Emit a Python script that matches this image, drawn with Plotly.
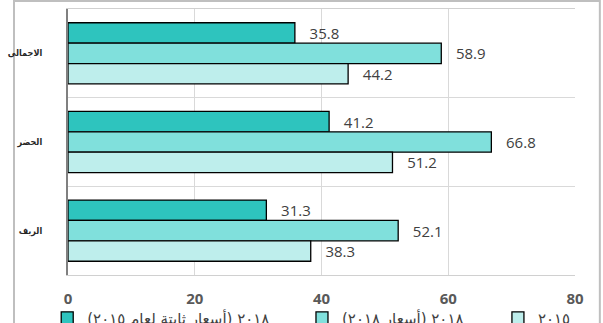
import plotly.graph_objects as go

categories = ["الاجمالى", "الحضر", "الريف"]
series_names = ["٢٠١٨ (أسعار ثابتة لعام ٢٠١٥)", "٢٠١٨ (أسعار ٢٠١٨)", "٢٠١٥"]
values_2018_const = [35.8, 41.2, 31.3]
values_2018_curr = [58.9, 66.8, 52.1]
values_2015 = [44.2, 51.2, 38.3]
x_ticks = [0, 20, 40, 60, 80]

colors = ["#2EC4BE", "#80E0DC", "#BEEEEC"]
series_values = [values_2018_const, values_2018_curr, values_2015]
legend_ids = ["legend", "legend2", "legend3"]
legend_x = [-0.041, 0.4615, 0.848]

fig = go.Figure()
for name, vals, col, lid in zip(series_names, series_values, colors, legend_ids):
    fig.add_trace(go.Bar(
        y=categories, x=vals, orientation="h", name=name,
        marker=dict(color=col, line=dict(color="#000000", width=1.3)),
        text=vals, texttemplate="\u00a0\u00a0\u00a0%{x:.1f}", textposition="outside",
        textfont=dict(family="Open Sans", size=15, color="#404040"),
        cliponaxis=False, legend=lid,
    ))

legend_common = dict(orientation="h", yanchor="middle", y=-0.162, xanchor="left",
                     font=dict(family="DejaVu Sans", size=15, color="#404040"),
                     bgcolor="rgba(0,0,0,0)", itemwidth=30)
layout_legends = {}
for lid, lx in zip(legend_ids, legend_x):
    layout_legends[lid] = dict(legend_common, x=lx)

fig.update_layout(
    width=603, height=323,
    margin=dict(l=68, r=28, t=9, b=48, autoexpand=False),
    paper_bgcolor="white", plot_bgcolor="white",
    barmode="group", bargap=0.31, bargroupgap=0,
    showlegend=True,
    xaxis=dict(range=[0, 80], tickvals=x_ticks, ticktext=[str(t) for t in x_ticks],
               showgrid=True, gridcolor="#D9D9D9", gridwidth=1.3,
               zeroline=False, showline=True, linecolor="#D0D0D0", linewidth=1.3, mirror=True,
               tickfont=dict(family="Open Sans", size=15, color="#595959", weight="bold"),
               ticks="", ticklabelstandoff=10),
    yaxis=dict(categoryorder="array", categoryarray=categories, autorange="reversed",
               tickson="boundaries", showgrid=True, gridcolor="#D9D9D9", gridwidth=1.3,
               showline=True, linecolor="#808080", linewidth=2,
               ticks="", ticklabelstandoff=22,
               tickfont=dict(family="DejaVu Sans Condensed, DejaVu Sans", size=9,
                             color="#262626", weight="bold")),
    shapes=[dict(type="rect", xref="paper", yref="paper", x0=-0.1065, x1=1.049, y0=-0.4, y1=1.030,
                 line=dict(color="#BFBFBF", width=2), fillcolor="rgba(0,0,0,0)", layer="below")],
    **layout_legends,
)

fig.write_html("out.html")
